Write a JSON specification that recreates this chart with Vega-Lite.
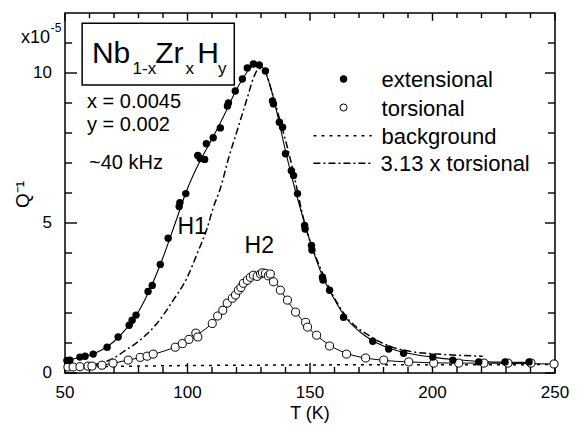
{
  "$schema": "https://vega.github.io/schema/vega-lite/v6.json",
  "width": 490,
  "height": 360,
  "autosize": "none",
  "padding": {"left": 65, "top": 13, "right": 22, "bottom": 52},
  "background": "white",
  "config": {
    "font": "Liberation Sans",
    "view": {"stroke": "black", "strokeWidth": 1.5},
    "text": {"font": "Liberation Sans", "color": "black"}
  },
  "datasets": {
    "ext": [
      {"T": 50.8, "Q": 0.42}, {"T": 52.0, "Q": 0.43}, {"T": 56.1, "Q": 0.53}, {"T": 58.2, "Q": 0.56},
      {"T": 61.5, "Q": 0.63}, {"T": 67.2, "Q": 0.86}, {"T": 71.7, "Q": 1.2}, {"T": 76.2, "Q": 1.59},
      {"T": 77.4, "Q": 1.76}, {"T": 79.0, "Q": 1.93}, {"T": 83.9, "Q": 2.72}, {"T": 85.6, "Q": 2.92},
      {"T": 88.9, "Q": 3.62}, {"T": 92.1, "Q": 4.49}, {"T": 96.6, "Q": 5.55}, {"T": 96.9, "Q": 5.68},
      {"T": 99.3, "Q": 5.98}, {"T": 104.2, "Q": 7.25}, {"T": 105.2, "Q": 7.15}, {"T": 107.0, "Q": 7.12},
      {"T": 107.7, "Q": 7.64}, {"T": 110.5, "Q": 7.84}, {"T": 113.4, "Q": 8.17}, {"T": 116.3, "Q": 8.9},
      {"T": 116.7, "Q": 9.0}, {"T": 119.5, "Q": 9.4}, {"T": 122.4, "Q": 9.8}, {"T": 124.4, "Q": 10.17},
      {"T": 126.9, "Q": 10.3}, {"T": 129.3, "Q": 10.27}, {"T": 131.8, "Q": 10.07}, {"T": 134.7, "Q": 9.07},
      {"T": 135.1, "Q": 8.97}, {"T": 137.5, "Q": 8.36}, {"T": 138.8, "Q": 8.19}, {"T": 140.0, "Q": 7.31},
      {"T": 142.4, "Q": 6.74}, {"T": 143.3, "Q": 6.58}, {"T": 144.9, "Q": 5.98}, {"T": 147.8, "Q": 4.92},
      {"T": 148.0, "Q": 4.8}, {"T": 150.6, "Q": 4.25}, {"T": 150.8, "Q": 4.1}, {"T": 155.1, "Q": 3.19},
      {"T": 155.3, "Q": 3.1}, {"T": 158.0, "Q": 2.76}, {"T": 163.7, "Q": 1.86}, {"T": 175.6, "Q": 1.06},
      {"T": 182.1, "Q": 0.8}, {"T": 188.2, "Q": 0.66}, {"T": 200.1, "Q": 0.53}, {"T": 208.3, "Q": 0.43},
      {"T": 218.9, "Q": 0.37}, {"T": 229.6, "Q": 0.37}, {"T": 239.4, "Q": 0.37}
    ],
    "tor": [
      {"T": 51.2, "Q": 0.2}, {"T": 53.3, "Q": 0.2}, {"T": 56.1, "Q": 0.21}, {"T": 59.4, "Q": 0.23},
      {"T": 61.0, "Q": 0.23}, {"T": 65.1, "Q": 0.26}, {"T": 69.6, "Q": 0.33}, {"T": 75.8, "Q": 0.43},
      {"T": 80.7, "Q": 0.52}, {"T": 83.5, "Q": 0.56}, {"T": 86.0, "Q": 0.63}, {"T": 95.0, "Q": 0.86},
      {"T": 97.9, "Q": 0.98}, {"T": 100.6, "Q": 1.12}, {"T": 103.4, "Q": 1.33}, {"T": 104.2, "Q": 1.2},
      {"T": 110.1, "Q": 1.65}, {"T": 112.3, "Q": 1.9}, {"T": 114.4, "Q": 2.09}, {"T": 116.2, "Q": 2.33},
      {"T": 118.3, "Q": 2.49}, {"T": 119.6, "Q": 2.6}, {"T": 120.8, "Q": 2.76}, {"T": 121.8, "Q": 2.85},
      {"T": 122.8, "Q": 2.99}, {"T": 124.4, "Q": 3.09}, {"T": 125.7, "Q": 3.19}, {"T": 126.9, "Q": 3.26},
      {"T": 128.4, "Q": 3.22}, {"T": 129.8, "Q": 3.3}, {"T": 130.6, "Q": 3.34}, {"T": 131.8, "Q": 3.32},
      {"T": 133.0, "Q": 3.24}, {"T": 133.8, "Q": 3.3}, {"T": 135.1, "Q": 3.04}, {"T": 137.9, "Q": 2.76},
      {"T": 140.8, "Q": 2.43}, {"T": 144.1, "Q": 2.03}, {"T": 148.2, "Q": 1.69}, {"T": 149.0, "Q": 1.53},
      {"T": 152.7, "Q": 1.26}, {"T": 158.0, "Q": 0.9}, {"T": 164.9, "Q": 0.63}, {"T": 172.7, "Q": 0.5},
      {"T": 180.1, "Q": 0.43}, {"T": 190.3, "Q": 0.37}, {"T": 200.5, "Q": 0.33}, {"T": 210.7, "Q": 0.33},
      {"T": 221.0, "Q": 0.33}, {"T": 230.8, "Q": 0.33}, {"T": 240.2, "Q": 0.33}, {"T": 249.6, "Q": 0.3}
    ],
    "extFit": [
      {"T": 50, "Q": 0.4}, {"T": 55, "Q": 0.5}, {"T": 60, "Q": 0.6}, {"T": 65, "Q": 0.77}, {"T": 70, "Q": 1.05},
      {"T": 75, "Q": 1.48}, {"T": 80, "Q": 2.05}, {"T": 85, "Q": 2.85}, {"T": 90, "Q": 3.85}, {"T": 95, "Q": 5.0},
      {"T": 100, "Q": 6.15}, {"T": 105, "Q": 7.05}, {"T": 110, "Q": 7.8}, {"T": 115, "Q": 8.6}, {"T": 120, "Q": 9.45},
      {"T": 125, "Q": 10.1}, {"T": 128, "Q": 10.3}, {"T": 131, "Q": 10.15}, {"T": 134, "Q": 9.5}, {"T": 137, "Q": 8.5},
      {"T": 140, "Q": 7.4}, {"T": 143, "Q": 6.4}, {"T": 146, "Q": 5.5}, {"T": 150, "Q": 4.4}, {"T": 155, "Q": 3.25},
      {"T": 160, "Q": 2.45}, {"T": 165, "Q": 1.8}, {"T": 170, "Q": 1.4}, {"T": 175, "Q": 1.1}, {"T": 180, "Q": 0.9},
      {"T": 185, "Q": 0.76}, {"T": 190, "Q": 0.66}, {"T": 200, "Q": 0.53}, {"T": 210, "Q": 0.44}, {"T": 220, "Q": 0.38},
      {"T": 230, "Q": 0.36}, {"T": 240, "Q": 0.35}
    ],
    "torFit": [
      {"T": 50, "Q": 0.18}, {"T": 55, "Q": 0.2}, {"T": 60, "Q": 0.22}, {"T": 65, "Q": 0.26}, {"T": 70, "Q": 0.33},
      {"T": 75, "Q": 0.42}, {"T": 80, "Q": 0.5}, {"T": 85, "Q": 0.6}, {"T": 90, "Q": 0.72}, {"T": 95, "Q": 0.87},
      {"T": 100, "Q": 1.08}, {"T": 105, "Q": 1.33}, {"T": 110, "Q": 1.65}, {"T": 115, "Q": 2.08}, {"T": 120, "Q": 2.62},
      {"T": 125, "Q": 3.08}, {"T": 128, "Q": 3.25}, {"T": 131, "Q": 3.3}, {"T": 134, "Q": 3.2}, {"T": 137, "Q": 2.9},
      {"T": 140, "Q": 2.5}, {"T": 145, "Q": 1.95}, {"T": 150, "Q": 1.45}, {"T": 155, "Q": 1.1}, {"T": 160, "Q": 0.83},
      {"T": 165, "Q": 0.65}, {"T": 170, "Q": 0.54}, {"T": 175, "Q": 0.47}, {"T": 180, "Q": 0.42}, {"T": 190, "Q": 0.37},
      {"T": 200, "Q": 0.34}, {"T": 210, "Q": 0.33}, {"T": 220, "Q": 0.33}, {"T": 230, "Q": 0.32}, {"T": 240, "Q": 0.31},
      {"T": 250, "Q": 0.3}
    ],
    "scaled": [
      {"T": 55, "Q": 0.17}, {"T": 60, "Q": 0.24}, {"T": 64.3, "Q": 0.33}, {"T": 70, "Q": 0.5}, {"T": 73.7, "Q": 0.7},
      {"T": 80.7, "Q": 1.1}, {"T": 87.6, "Q": 1.66}, {"T": 94.2, "Q": 2.43}, {"T": 99.9, "Q": 3.19}, {"T": 104, "Q": 3.99},
      {"T": 108.1, "Q": 4.85}, {"T": 110.5, "Q": 5.51}, {"T": 113.4, "Q": 6.15}, {"T": 116.7, "Q": 7.14}, {"T": 120.8, "Q": 8.22},
      {"T": 124.4, "Q": 9.17}, {"T": 126.9, "Q": 9.83}, {"T": 129.3, "Q": 10.15}, {"T": 131.5, "Q": 10.05}, {"T": 134.7, "Q": 9.3},
      {"T": 138, "Q": 8.34}, {"T": 140.8, "Q": 7.51}, {"T": 142.8, "Q": 6.84}, {"T": 147.8, "Q": 5.0}, {"T": 155, "Q": 3.35},
      {"T": 163.7, "Q": 2.0}, {"T": 175, "Q": 1.2}, {"T": 183, "Q": 0.88}, {"T": 192.3, "Q": 0.7}, {"T": 202, "Q": 0.63},
      {"T": 220.5, "Q": 0.56}
    ],
    "bg": [
      {"T": 50, "Q": 0.2}, {"T": 100, "Q": 0.25}, {"T": 150, "Q": 0.27}, {"T": 250, "Q": 0.28}
    ],
    "xMajor": [{"T": 50}, {"T": 100}, {"T": 150}, {"T": 200}, {"T": 250}],
    "xMinor": [{"T": 60}, {"T": 70}, {"T": 80}, {"T": 90}, {"T": 110}, {"T": 120}, {"T": 130}, {"T": 140},
      {"T": 160}, {"T": 170}, {"T": 180}, {"T": 190}, {"T": 210}, {"T": 220}, {"T": 230}, {"T": 240}],
    "yMajor": [{"Q": 0}, {"Q": 5}, {"Q": 10}],
    "yMinor": [{"Q": 1}, {"Q": 2}, {"Q": 3}, {"Q": 4}, {"Q": 6}, {"Q": 7}, {"Q": 8}, {"Q": 9}, {"Q": 11}],
    "xTitle": [{"T": 150, "label": "T (K)"}],
    "yTitle": [{"T": 32.9, "Q": 5.95, "label": "Q⁻¹"}],
    "box": [{"T1": 57.0, "T2": 119.1, "Q1": 9.6, "Q2": 11.66}],
    "formulaBig": [
      {"T": 61.0, "Q": 10.33, "label": "Nb"}, {"T": 86.8, "Q": 10.33, "label": "Zr"}, {"T": 104.0, "Q": 10.33, "label": "H"}
    ],
    "formulaSub": [
      {"T": 77.6, "Q": 9.98, "label": "1-x"}, {"T": 99.2, "Q": 9.98, "label": "x"}, {"T": 112.4, "Q": 9.98, "label": "y"}
    ],
    "params": [
      {"T": 59.0, "Q": 8.84, "label": "x = 0.0045"}, {"T": 59.0, "Q": 8.07, "label": "y = 0.002"}, {"T": 59.8, "Q": 6.81, "label": "~40 kHz"}
    ],
    "curveLabels": [
      {"T": 101.9, "Q": 4.88, "label": "H1"}, {"T": 129.3, "Q": 4.22, "label": "H2"}
    ],
    "legendText": [
      {"T": 179.2, "Q": 9.53, "label": "extensional"}, {"T": 179.2, "Q": 8.57, "label": "torsional"},
      {"T": 179.2, "Q": 7.65, "label": "background"}, {"T": 178.8, "Q": 6.72, "label": "3.13 x torsional"}
    ],
    "legFilled": [{"T": 163.7, "Q": 9.8}],
    "legOpen": [{"T": 163.7, "Q": 8.85}],
    "legDot": [{"T1": 151.4, "T2": 175.2, "Q": 7.91}],
    "legDash": [{"T1": 151.4, "T2": 175.2, "Q": 6.99}],
    "unitMain": [{"T": 43.9, "Q": 11.0, "label": "x10"}],
    "unitExp": [{"T": 44.2, "Q": 11.36, "label": "-5"}]
  },
  "layer": [
    {
      "data": {"name": "bg"},
      "mark": {"type": "line", "stroke": "black", "strokeWidth": 1.5, "strokeDash": [3, 5]},
      "encoding": {
        "x": {"field": "T", "type": "quantitative", "scale": {"domain": [50, 250], "nice": false, "zero": false}, "axis": null},
        "y": {"field": "Q", "type": "quantitative", "scale": {"domain": [0, 12], "nice": false, "zero": false}, "axis": null}
      }
    },
    {
      "data": {"name": "xMajor"},
      "mark": {"type": "rule", "stroke": "black", "strokeWidth": 1.4},
      "encoding": {
        "x": {"field": "T", "type": "quantitative", "axis": null},
        "y": {"datum": 0, "type": "quantitative", "axis": null},
        "y2": {"datum": 0.33}
      }
    },
    {
      "data": {"name": "xMajor"},
      "mark": {"type": "rule", "stroke": "black", "strokeWidth": 1.4},
      "encoding": {
        "x": {"field": "T", "type": "quantitative", "axis": null},
        "y": {"datum": 12, "type": "quantitative", "axis": null},
        "y2": {"datum": 11.74}
      }
    },
    {
      "data": {"name": "xMinor"},
      "mark": {"type": "rule", "stroke": "black", "strokeWidth": 1.4},
      "encoding": {
        "x": {"field": "T", "type": "quantitative", "axis": null},
        "y": {"datum": 0, "type": "quantitative", "axis": null},
        "y2": {"datum": 0.2}
      }
    },
    {
      "data": {"name": "xMinor"},
      "mark": {"type": "rule", "stroke": "black", "strokeWidth": 1.4},
      "encoding": {
        "x": {"field": "T", "type": "quantitative", "axis": null},
        "y": {"datum": 12, "type": "quantitative", "axis": null},
        "y2": {"datum": 11.83}
      }
    },
    {
      "data": {"name": "yMajor"},
      "mark": {"type": "rule", "stroke": "black", "strokeWidth": 1.4},
      "encoding": {
        "y": {"field": "Q", "type": "quantitative", "axis": null},
        "x": {"datum": 50, "type": "quantitative", "axis": null},
        "x2": {"datum": 54.9}
      }
    },
    {
      "data": {"name": "yMajor"},
      "mark": {"type": "rule", "stroke": "black", "strokeWidth": 1.4},
      "encoding": {
        "y": {"field": "Q", "type": "quantitative", "axis": null},
        "x": {"datum": 250, "type": "quantitative", "axis": null},
        "x2": {"datum": 245.9}
      }
    },
    {
      "data": {"name": "yMinor"},
      "mark": {"type": "rule", "stroke": "black", "strokeWidth": 1.4},
      "encoding": {
        "y": {"field": "Q", "type": "quantitative", "axis": null},
        "x": {"datum": 50, "type": "quantitative", "axis": null},
        "x2": {"datum": 52.9}
      }
    },
    {
      "data": {"name": "yMinor"},
      "mark": {"type": "rule", "stroke": "black", "strokeWidth": 1.4},
      "encoding": {
        "y": {"field": "Q", "type": "quantitative", "axis": null},
        "x": {"datum": 250, "type": "quantitative", "axis": null},
        "x2": {"datum": 247.1}
      }
    },
    {
      "data": {"name": "xMajor"},
      "mark": {"type": "text", "align": "center", "baseline": "middle", "fontSize": 17, "dy": 20},
      "encoding": {
        "x": {"field": "T", "type": "quantitative", "axis": null},
        "y": {"datum": 0, "type": "quantitative", "axis": null},
        "text": {"field": "T", "type": "quantitative"}
      }
    },
    {
      "data": {"name": "yMajor"},
      "mark": {"type": "text", "align": "right", "baseline": "middle", "fontSize": 17, "dx": -13},
      "encoding": {
        "y": {"field": "Q", "type": "quantitative", "axis": null},
        "x": {"datum": 50, "type": "quantitative", "axis": null},
        "text": {"field": "Q", "type": "quantitative"}
      }
    },
    {
      "data": {"name": "xTitle"},
      "mark": {"type": "text", "align": "center", "baseline": "middle", "fontSize": 18, "dy": 41},
      "encoding": {
        "x": {"field": "T", "type": "quantitative", "axis": null},
        "y": {"datum": 0, "type": "quantitative", "axis": null},
        "text": {"field": "label"}
      }
    },
    {
      "data": {"name": "yTitle"},
      "mark": {"type": "text", "align": "center", "baseline": "middle", "fontSize": 19, "angle": 270},
      "encoding": {
        "x": {"field": "T", "type": "quantitative", "axis": null},
        "y": {"field": "Q", "type": "quantitative", "axis": null},
        "text": {"field": "label"}
      }
    },
    {
      "data": {"name": "torFit"},
      "mark": {"type": "line", "stroke": "black", "strokeWidth": 1, "interpolate": "monotone"},
      "encoding": {
        "x": {"field": "T", "type": "quantitative", "axis": null},
        "y": {"field": "Q", "type": "quantitative", "axis": null}
      }
    },
    {
      "data": {"name": "scaled"},
      "mark": {"type": "line", "stroke": "black", "strokeWidth": 1.5, "strokeDash": [7, 3, 2, 3], "interpolate": "monotone"},
      "encoding": {
        "x": {"field": "T", "type": "quantitative", "axis": null},
        "y": {"field": "Q", "type": "quantitative", "axis": null}
      }
    },
    {
      "data": {"name": "extFit"},
      "mark": {"type": "line", "stroke": "black", "strokeWidth": 1.1, "interpolate": "monotone"},
      "encoding": {
        "x": {"field": "T", "type": "quantitative", "axis": null},
        "y": {"field": "Q", "type": "quantitative", "axis": null}
      }
    },
    {
      "data": {"name": "tor"},
      "mark": {"type": "point", "shape": "circle", "filled": false, "fill": "white", "fillOpacity": 1, "stroke": "black", "strokeWidth": 1, "size": 65, "opacity": 1},
      "encoding": {
        "x": {"field": "T", "type": "quantitative", "axis": null},
        "y": {"field": "Q", "type": "quantitative", "axis": null}
      }
    },
    {
      "data": {"name": "ext"},
      "mark": {"type": "circle", "color": "black", "size": 55, "opacity": 1},
      "encoding": {
        "x": {"field": "T", "type": "quantitative", "axis": null},
        "y": {"field": "Q", "type": "quantitative", "axis": null}
      }
    },
    {
      "data": {"name": "box"},
      "mark": {"type": "rect", "fill": "white", "stroke": "black", "strokeWidth": 1.5},
      "encoding": {
        "x": {"field": "T1", "type": "quantitative", "axis": null},
        "x2": {"field": "T2"},
        "y": {"field": "Q1", "type": "quantitative", "axis": null},
        "y2": {"field": "Q2"}
      }
    },
    {
      "data": {"name": "formulaBig"},
      "mark": {"type": "text", "align": "left", "baseline": "alphabetic", "fontSize": 30},
      "encoding": {
        "x": {"field": "T", "type": "quantitative", "axis": null},
        "y": {"field": "Q", "type": "quantitative", "axis": null},
        "text": {"field": "label"}
      }
    },
    {
      "data": {"name": "formulaSub"},
      "mark": {"type": "text", "align": "left", "baseline": "alphabetic", "fontSize": 17},
      "encoding": {
        "x": {"field": "T", "type": "quantitative", "axis": null},
        "y": {"field": "Q", "type": "quantitative", "axis": null},
        "text": {"field": "label"}
      }
    },
    {
      "data": {"name": "params"},
      "mark": {"type": "text", "align": "left", "baseline": "alphabetic", "fontSize": 20},
      "encoding": {
        "x": {"field": "T", "type": "quantitative", "axis": null},
        "y": {"field": "Q", "type": "quantitative", "axis": null},
        "text": {"field": "label"}
      }
    },
    {
      "data": {"name": "curveLabels"},
      "mark": {"type": "text", "align": "center", "baseline": "middle", "fontSize": 23},
      "encoding": {
        "x": {"field": "T", "type": "quantitative", "axis": null},
        "y": {"field": "Q", "type": "quantitative", "axis": null},
        "text": {"field": "label"}
      }
    },
    {
      "data": {"name": "legendText"},
      "mark": {"type": "text", "align": "left", "baseline": "alphabetic", "fontSize": 22},
      "encoding": {
        "x": {"field": "T", "type": "quantitative", "axis": null},
        "y": {"field": "Q", "type": "quantitative", "axis": null},
        "text": {"field": "label"}
      }
    },
    {
      "data": {"name": "legFilled"},
      "mark": {"type": "circle", "color": "black", "size": 55, "opacity": 1},
      "encoding": {
        "x": {"field": "T", "type": "quantitative", "axis": null},
        "y": {"field": "Q", "type": "quantitative", "axis": null}
      }
    },
    {
      "data": {"name": "legOpen"},
      "mark": {"type": "point", "shape": "circle", "filled": false, "fill": "white", "stroke": "black", "strokeWidth": 1, "size": 50, "opacity": 1},
      "encoding": {
        "x": {"field": "T", "type": "quantitative", "axis": null},
        "y": {"field": "Q", "type": "quantitative", "axis": null}
      }
    },
    {
      "data": {"name": "legDot"},
      "mark": {"type": "rule", "stroke": "black", "strokeWidth": 1.5, "strokeDash": [3, 5]},
      "encoding": {
        "x": {"field": "T1", "type": "quantitative", "axis": null},
        "x2": {"field": "T2"},
        "y": {"field": "Q", "type": "quantitative", "axis": null}
      }
    },
    {
      "data": {"name": "legDash"},
      "mark": {"type": "rule", "stroke": "black", "strokeWidth": 1.5, "strokeDash": [7, 3, 2, 3]},
      "encoding": {
        "x": {"field": "T1", "type": "quantitative", "axis": null},
        "x2": {"field": "T2"},
        "y": {"field": "Q", "type": "quantitative", "axis": null}
      }
    },
    {
      "data": {"name": "unitMain"},
      "mark": {"type": "text", "align": "right", "baseline": "alphabetic", "fontSize": 18},
      "encoding": {
        "x": {"field": "T", "type": "quantitative", "axis": null},
        "y": {"field": "Q", "type": "quantitative", "axis": null},
        "text": {"field": "label"}
      }
    },
    {
      "data": {"name": "unitExp"},
      "mark": {"type": "text", "align": "left", "baseline": "alphabetic", "fontSize": 12},
      "encoding": {
        "x": {"field": "T", "type": "quantitative", "axis": null},
        "y": {"field": "Q", "type": "quantitative", "axis": null},
        "text": {"field": "label"}
      }
    }
  ]
}
